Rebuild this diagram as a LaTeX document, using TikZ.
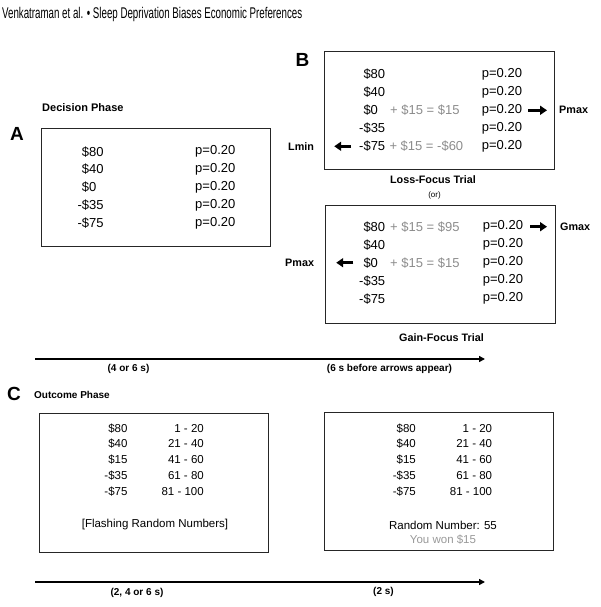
\documentclass[tikz,border=0pt]{standalone}
\usepackage{fontspec}
\setmainfont{Liberation Sans}
\usetikzlibrary{arrows.meta}
\begin{document}
\begin{tikzpicture}[x=1pt,y=-1pt,
  val/.style={inner sep=0pt,font=\fontsize{13}{15}\selectfont,anchor=west},
  add/.style={val,text=black!45},
  cval/.style={inner sep=0pt,font=\fontsize{11.5}{14}\selectfont,anchor=east},
  ctext/.style={inner sep=0pt,font=\fontsize{11.5}{14}\selectfont},
  lbl/.style={inner sep=0pt,font=\fontsize{10.8}{13}\selectfont\bfseries},
  big/.style={inner sep=0pt,font=\fontsize{19}{22}\selectfont\bfseries},
  panel/.style={draw=black!85,line width=1pt},
  bigarrow/.style={line width=2.6pt,-{Triangle[length=7pt,width=9pt]}},
  timeline/.style={line width=2pt,-{Triangle[length=6pt,width=6pt]}},
]
\useasboundingbox (0,0) rectangle (600,607);
% header
\node[anchor=west,inner sep=0pt] (hdr) at (2,14) {\resizebox{300pt}{\height}{\fontsize{15.5}{17}\selectfont Venkatraman et al. \textbullet{} Sleep Deprivation Biases Economic Preferences}};

% ---------- Panel A ----------
\node[lbl,anchor=west,font=\fontsize{11}{13}\selectfont\bfseries] (decph) at (42,108) {Decision Phase};
\node[big] (labA) at (17,134) {A};
\draw[panel] (41,128) rectangle (270,246);
\node[val] (a1) at (81.7,151.7) {\$80};
\node[val] (a2) at (81.7,169.3) {\$40};
\node[val] (a3) at (81.7,187.3) {\$0};
\node[val] (a4) at (77.4,205.3) {-\$35};
\node[val] (a5) at (77.4,223.3) {-\$75};
\foreach \i/\y in {1/151.7,2/169.3,3/187.3,4/205.3,5/223.3}
  \node[val] (ap\i) at (195,\y) {p=0.20};

% ---------- Panel B (loss focus) ----------
\node[big] (labB) at (302.5,60) {B};
\draw[panel] (324.3,51.7) rectangle (554,169);
\node[val] (b1) at (363.3,74.3) {\$80};
\node[val] (b2) at (363.3,92.3) {\$40};
\node[val] (b3) at (363.3,110.3) {\$0};
\node[add] (b3add) at (390,110.3) {+ \$15 = \$15};
\node[val] (b4) at (359,128.3) {-\$35};
\node[val] (b5) at (359,146.3) {-\$75};
\node[add] (b5add) at (389.3,146.3) {+ \$15 = -\$60};
\foreach \i/\y in {1/74.3,2/92.3,3/110.3,4/128.3,5/146.3}
  \node[val] (bp\i) at (481.7,\y) {p=0.20};
\node[lbl,anchor=west] (bpmax) at (559,110.3) {Pmax};
\node[lbl,anchor=west] (lmin) at (288,146.3) {Lmin};
\draw[bigarrow,shorten <=6pt,shorten >=12pt] (bp3.east) -- (bpmax.west);
\draw[bigarrow,shorten <=8pt,shorten >=20pt] (b5.west) -- (lmin.east);
\node[lbl] (losst) at (433,179.3) {Loss-Focus Trial};
\node[inner sep=0pt,font=\fontsize{8}{10}\selectfont] (ortxt) at (434.5,195) {(or)};

% ---------- Panel B (gain focus) ----------
\draw[panel] (325.7,205.7) rectangle (555,323.3);
\node[val] (g1) at (363.3,226.7) {\$80};
\node[add] (g1add) at (390,226.7) {+ \$15 = \$95};
\node[val] (g2) at (363.3,244.7) {\$40};
\node[val] (g3) at (363.3,262.7) {\$0};
\node[add] (g3add) at (390,262.7) {+ \$15 = \$15};
\node[val] (g4) at (359,280.7) {-\$35};
\node[val] (g5) at (359,298.7) {-\$75};
\foreach \i/\y in {1/226.7,2/244.7,3/262.7,4/280.7,5/298.7}
  \node[val] (gp\i) at (482.7,\y) {p=0.20};
\node[lbl,anchor=west] (gmax) at (560,226.7) {Gmax};
\node[lbl,anchor=west] (gpmax) at (285,262.7) {Pmax};
\draw[bigarrow,shorten <=7pt,shorten >=13pt] (gp1.east) -- (gmax.west);
\draw[bigarrow,shorten <=10pt,shorten >=22pt] (g3.west) -- (gpmax.east);
\node[lbl] (gaint) at (441.5,337.7) {Gain-Focus Trial};

% ---------- Timeline 1 ----------
\coordinate (t1s) at (35,359);
\coordinate (t1e) at (485,359);
\draw[timeline] (t1s) -- (t1e);
\node[lbl,font=\fontsize{10}{12}\selectfont\bfseries] (t1a) at (128.5,369.3) {(4 or 6 s)};
\node[lbl,font=\fontsize{10}{12}\selectfont\bfseries] (t1b) at (389.5,369.3) {(6 s before arrows appear)};

% ---------- Panel C ----------
\node[big] (labC) at (14,394.3) {C};
\node[lbl,anchor=west,font=\fontsize{10}{12}\selectfont\bfseries] (outph) at (34,395) {Outcome Phase};
\draw[panel] (39,413.3) rectangle (268,552.3);
\draw[panel] (324,412.3) rectangle (553.3,550.7);
\foreach \i/\y/\amt/\rng in {1/428.3/\$80/1 - 20,2/444/\$40/21 - 40,3/460/\$15/41 - 60,4/476/-\$35/61 - 80,5/492/-\$75/81 - 100}{
  \node[cval] (ca\i) at (127.7,\y) {\amt};
  \node[cval] (cr\i) at (204,\y) {\rng};
  \node[cval] (da\i) at (416,\y) {\amt};
  \node[cval] (dr\i) at (492.3,\y) {\rng};
}
\node[ctext] (flash) at (155,525) {[Flashing Random Numbers]};
\node[ctext] (rnum) at (443,525) {Random Number: 55};
\node[ctext,text=black!40] (won) at (443,540) {You won \$15};

% ---------- Timeline 2 ----------
\coordinate (t2s) at (35,582);
\coordinate (t2e) at (485,582);
\draw[timeline] (t2s) -- (t2e);
\node[lbl,font=\fontsize{10}{12}\selectfont\bfseries] (t2a) at (137,593.3) {(2, 4 or 6 s)};
\node[lbl,font=\fontsize{10}{12}\selectfont\bfseries] (t2b) at (383.5,592.3) {(2 s)};
\end{tikzpicture}
\end{document}
